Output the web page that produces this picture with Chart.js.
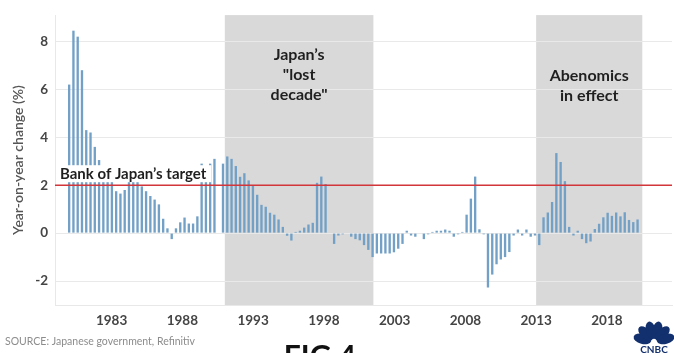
<!DOCTYPE html>
<html>
<head>
<meta charset="utf-8">
<title>Japan inflation</title>
<script src="https://cdn.jsdelivr.net/npm/chart.js@4.4.1/dist/chart.umd.min.js"></script>
<style>
  html, body { margin: 0; padding: 0; background: #fff; }
  #wrap { width: 674px; height: 353px; position: relative; }
</style>
</head>
<body>
<div id="wrap"><canvas id="cpiChart"></canvas></div>
<script>
// consumer prices, year-on-year change (%), one bar per period from 1980
const startYear = 1980;
const periodLen = 0.302;
const cpi = [
  6.2, 8.45, 8.2, 6.8, 4.3, 4.2, 3.6, 3.05, 2.8, 2.5,
  2.3, 1.75, 1.65, 1.8, 2.3, 2.3, 2.25, 1.95, 1.75, 1.55,
  1.4, 1.2, 0.6, 0.2, -0.25, 0.2, 0.45, 0.65, 0.4, 0.4,
  0.7, 2.9, 2.8, 2.9, 3.1, 0, 2.9, 3.2, 3.1, 2.8,
  2.35, 2.5, 2.2, 2.0, 1.6, 1.18, 1.1, 0.85, 0.77, 0.57,
  0.26, -0.11, -0.31, 0.05, 0.1, 0.23, 0.36, 0.43, 2.1, 2.36,
  2.05, 0, -0.45, -0.1, -0.05, 0, -0.15, -0.25, -0.3, -0.5,
  -0.7, -1.0, -0.85, -0.85, -0.85, -0.85, -0.8, -0.65, -0.45, 0.1,
  -0.1, -0.15, -0.02, -0.25, -0.05, 0.05, 0.1, 0.1, 0.15, 0.1,
  -0.15, -0.05, 0.05, 0.77, 1.44, 2.36, 0.16, -0.05, -2.27, -1.73,
  -1.3, -1.1, -1.0, -0.79, -0.1, 0.15, -0.1, 0.15, -0.15, -0.1,
  -0.5, 0.66, 0.86, 1.3, 3.34, 2.97, 2.17, 0.26, -0.1, 0.1,
  -0.25, -0.42, -0.35, 0.17, 0.39, 0.66, 0.85, 0.72, 0.86, 0.7,
  0.87, 0.55, 0.46, 0.57
];
const boj_target = 2;
const yearTicks = [1983, 1988, 1993, 1998, 2003, 2008, 2013, 2018];
const pctTicks = [-2, 0, 2, 4, 6, 8];
const xRange = [1979, 2022.6];
const yRange = [-3, 9.1];

// shaded periods
const bandFrom = [1991, 2013];
const bandTo = [2001.5, 2020.5];
const bandText = [['Japan\u2019s', '"lost', 'decade"'], ['Abenomics', 'in effect']];
const bandTextY = [7.45, 6.58];   // value where first line sits

const periods = cpi.map((v, i) => startYear + i * periodLen);

const decor = {
  id: 'decor',
  beforeDraw(chart) {
    const { ctx, chartArea: a, scales: { x } } = chart;
    ctx.save();
    ctx.fillStyle = '#d9d9d9';
    bandFrom.forEach((f, i) => {
      const x0 = x.getPixelForValue(f), x1 = x.getPixelForValue(bandTo[i]);
      ctx.fillRect(x0, a.top, x1 - x0, a.bottom - a.top);
    });
    ctx.restore();
  },
  afterDatasetsDraw(chart) {
    const { ctx, chartArea: a, scales: { x, y } } = chart;
    ctx.save();
    ctx.fillStyle = '#1f1f1f';
    ctx.textAlign = 'center';
    ctx.textBaseline = 'middle';
    ctx.font = 'bold 16px Lato';
    bandText.forEach((lines, i) => {
      const cx = x.getPixelForValue((bandFrom[i] + bandTo[i]) / 2);
      const y0 = y.getPixelForValue(bandTextY[i]);
      lines.forEach((t, j) => ctx.fillText(t, cx, y0 + j * 20));
    });

    // target label sits in a white box just above the red line
    const ty = y.getPixelForValue(boj_target);
    ctx.font = 'bold 15px Lato';
    const txt = 'Bank of Japan\u2019s target';
    const w = ctx.measureText(txt).width;
    ctx.fillStyle = '#fff';
    ctx.fillRect(a.left + 2, ty - 20, w + 8, 17);
    ctx.fillStyle = '#1f1f1f';
    ctx.textAlign = 'left';
    ctx.fillText(txt, a.left + 5, ty - 11.5);
    ctx.restore();
  },
  afterDraw(chart) {
    const { ctx } = chart;
    ctx.save();
    ctx.fillStyle = '#8c8c8c';
    ctx.font = '10.5px Lato';
    ctx.textBaseline = 'middle';
    ctx.fillText('SOURCE: Japanese government, Refinitiv', 5, 342);

    ctx.fillStyle = '#111';
    ctx.font = 'bold 30px Lato';
    ctx.textAlign = 'center';
    ctx.textBaseline = 'alphabetic';
    ctx.fillText('FIG 4', 320, 367);

    // peacock mark
    const cx = 654, cy = 342;
    ctx.fillStyle = '#13306e';
    for (let k = 0; k < 6; k++) {
      const ang = Math.PI + (k + 0.5) * Math.PI / 6;
      ctx.beginPath();
      ctx.ellipse(cx + Math.cos(ang) * 12, cy + Math.sin(ang) * 12, 9, 5, ang, 0, Math.PI * 2);
      ctx.fill();
    }
    ctx.font = 'bold 10px Lato';
    ctx.fillText('CNBC', cx, 353);
    ctx.restore();
  }
};

const ctx = document.getElementById('cpiChart').getContext('2d');
const cpiChart = new Chart(ctx, {
  type: 'bar',
  data: {
    datasets: [{
      type: 'line',
      data: [{ x: xRange[0], y: boj_target }, { x: xRange[1], y: boj_target }],
      borderColor: '#d2353a',
      borderWidth: 1.6,
      pointRadius: 0,
      order: 0
    }, {
      data: cpi.map((v, i) => ({ x: periods[i], y: v })),
      backgroundColor: '#72a0c6',
      borderWidth: 0,
      categoryPercentage: 1,
      barPercentage: 0.55,
      order: 1
    }]
  },
  options: {
    responsive: true,
    maintainAspectRatio: false,
    animation: false,
    layout: { padding: { top: 8, right: 2, left: 0, bottom: 0 } },
    plugins: { legend: { display: false }, tooltip: { enabled: false } },
    scales: {
      x: {
        type: 'linear',
        offset: false,
        min: xRange[0],
        max: xRange[1],
        afterBuildTicks: s => { s.ticks = yearTicks.map(v => ({ value: v })); },
        afterFit: s => { s.height = 48; },
        grid: { display: false, drawTicks: false, offset: false },
        border: { display: true, color: '#e8e8e8' },
        ticks: {
          padding: 8,
          color: '#454545',
          font: { family: 'Lato', size: 13.5, weight: 'bold' },
          callback: v => String(v)
        }
      },
      y: {
        min: yRange[0],
        max: yRange[1],
        afterBuildTicks: s => { s.ticks = pctTicks.map(v => ({ value: v })); },
        afterFit: s => { s.width = 55; },
        grid: { color: '#e9e9e9', drawTicks: false },
        border: { display: true, color: '#e8e8e8' },
        ticks: {
          padding: 7,
          color: '#454545',
          font: { family: 'Lato', size: 13.5, weight: 'bold' }
        },
        title: {
          display: true,
          text: 'Year-on-year change (%)',
          color: '#555',
          padding: { top: 10 },
          font: { family: 'Lato', size: 14, weight: '600' }
        }
      }
    }
  },
  plugins: [decor]
});
</script>
</body>
</html>
